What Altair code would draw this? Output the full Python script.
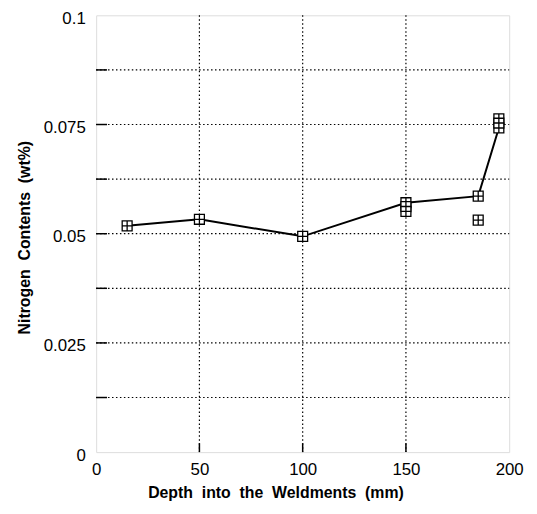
import altair as alt
import pandas as pd

# Connected series (line)
depth_line = [15, 50, 100, 150, 185, 195]
nitrogen_line = [0.0518, 0.0533, 0.0494, 0.0571, 0.0586, 0.0742]

# All measured points (markers)
depth_pts = [15, 50, 100, 150, 150, 150, 185, 185, 195, 195, 195]
nitrogen_pts = [0.0518, 0.0533, 0.0494, 0.0571, 0.0562, 0.0551, 0.0586, 0.0531, 0.0763, 0.0753, 0.0742]

x_ticks = [0, 50, 100, 150, 200]
y_ticks = [0, 0.025, 0.05, 0.075, 0.1]
x_grid = [50, 100, 150]
y_grid = [0.0125, 0.025, 0.0375, 0.05, 0.0625, 0.075, 0.0875]

line_df = pd.DataFrame({"x": depth_line, "y": nitrogen_line})
pts_df = pd.DataFrame({"x": depth_pts, "y": nitrogen_pts})
xg_df = pd.DataFrame({"x": x_grid})
yg_df = pd.DataFrame({"y": y_grid})

W, H = 417, 441

xs = alt.Scale(domain=[0, 200], nice=False, zero=False)
ys = alt.Scale(domain=[0, 0.1], nice=False)

xaxis = alt.Axis(
    values=x_ticks, title="Depth\u00a0 into\u00a0 the\u00a0 Weldments\u00a0 (mm)",
    grid=False, ticks=False, tickSize=0, domain=False, labelFlush=False,
    labelFontSize=17, labelPadding=10, labelColor="black",
    titleFontSize=16, titleFontWeight="bold", titleColor="black",
    titleX=181, titleY=41, titleAlign="center", titleBaseline="middle",
)
yaxis = alt.Axis(
    values=y_ticks, labelExpr="format(datum.value, '.3~f')",
    title="Nitrogen\u00a0 Contents\u00a0 (wt%)",
    grid=False, ticks=False, tickSize=0, domain=False, labelFlush=False,
    labelFontSize=17, labelPadding=11, labelOffset=3, labelColor="black",
    titleFontSize=16, titleFontWeight="bold", titleColor="black",
    titleX=-72, titleY=224, titleAlign="center", titleBaseline="middle",
)

def X():
    return alt.X("x:Q", scale=xs, axis=xaxis)

def Y():
    return alt.Y("y:Q", scale=ys, axis=yaxis)

dash = [1.5, 2.5]

vgrid = alt.Chart(xg_df).mark_rule(color="black", strokeWidth=1.2, strokeDash=dash).encode(
    x=X(), y=alt.value(0), y2=alt.value(H)
)
hgrid = alt.Chart(yg_df).mark_rule(color="black", strokeWidth=1.2, strokeDash=dash).encode(
    y=Y(), x=alt.value(0), x2=alt.value(W)
)
yticks_l = alt.Chart(yg_df).mark_rule(color="black", strokeWidth=1.5).encode(
    y=Y(), x=alt.value(0), x2=alt.value(11)
)
xticks_b = alt.Chart(xg_df).mark_rule(color="black", strokeWidth=1.5).encode(
    x=X(), y=alt.value(H), y2=alt.value(H - 9)
)

line = alt.Chart(line_df).mark_line(color="black", strokeWidth=2).encode(x=X(), y=Y())

pts = alt.Chart(pts_df).mark_point(
    shape="M-1,-1H1V1H-1Z M-1,0H1 M0,-1V1",
    filled=True, fill="white", stroke="black", strokeWidth=1.3, size=100, opacity=1,
).encode(x=X(), y=Y())

chart = alt.layer(vgrid, hgrid, yticks_l, xticks_b, line, pts).properties(
    width=W, height=H,
    autosize=alt.AutoSizeParams(type="none"),
    padding={"left": 89, "top": 5, "right": 20, "bottom": 50},
).configure_view(
    stroke="black", strokeWidth=2, fill="white"
).configure_axis(
    labelFont="Liberation Sans", titleFont="Liberation Sans"
).configure(background="white")

chart.save("out.html", embed_options={"renderer": "svg", "actions": False})
